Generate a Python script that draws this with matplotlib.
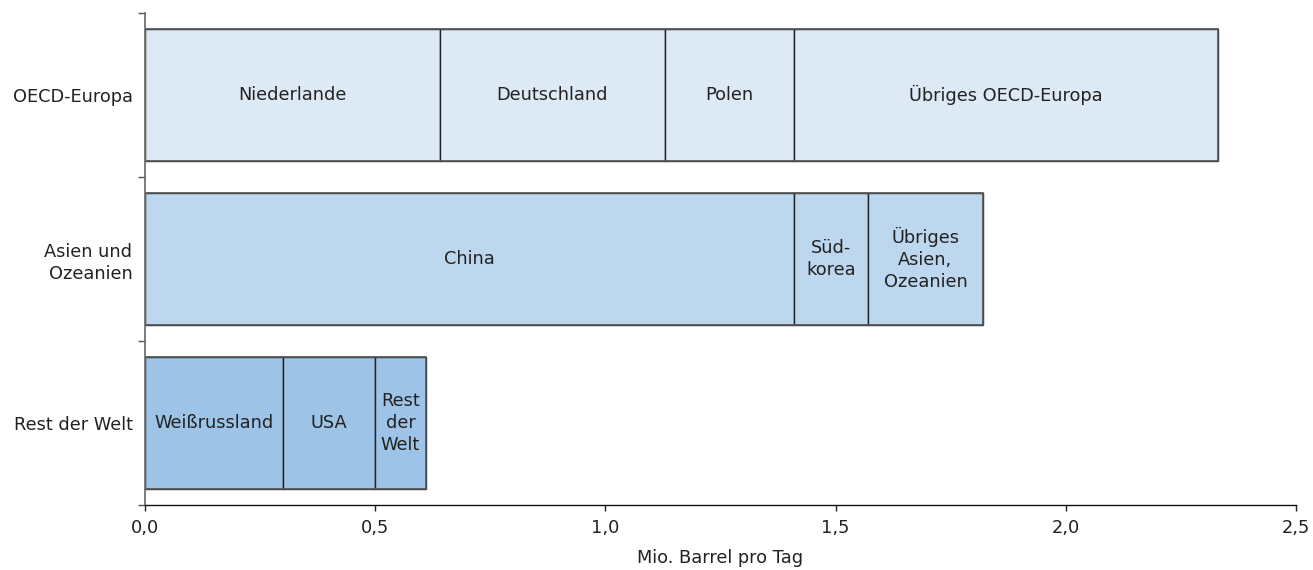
import numpy as np
import matplotlib.pyplot as plt
from matplotlib.ticker import FixedLocator

plt.rcParams['font.family'] = ['DejaVu Sans']

# Regions, top to bottom
regions = ['OECD-Europa', 'Asien und\nOzeanien', 'Rest der Welt']

# Segments per region (Mio. Barrel pro Tag)
oecd_labels = ['Niederlande', 'Deutschland', 'Polen', 'Übriges OECD-Europa']
oecd_values = [0.64, 0.49, 0.28, 0.92]

asia_labels = ['China', 'Süd-\nkorea', 'Übriges\nAsien,\nOzeanien']
asia_values = [1.41, 0.16, 0.25]

rest_labels = ['Weißrussland', 'USA', 'Rest\nder\nWelt']
rest_values = [0.30, 0.20, 0.11]

colors = ['#dde9f5', '#bdd7ee', '#9dc3e6']

xticks = [0.0, 0.5, 1.0, 1.5, 2.0, 2.5]
xtick_labels = ['0,0', '0,5', '1,0', '1,5', '2,0', '2,5']

fs = 12.8
fig = plt.figure(figsize=(13.13, 5.70), dpi=100)
ax = fig.add_axes([145 / 1313, 1 - 505 / 570, (1296 - 145) / 1313, (505 - 13) / 570])

rows = [(oecd_labels, oecd_values), (asia_labels, asia_values), (rest_labels, rest_values)]
ypos = [2, 1, 0]
bar_h = 0.81

for (labels, values), y, c in zip(rows, ypos, colors):
    left = 0.0
    for lab, v in zip(labels, values):
        ax.barh(y, v, left=left, height=bar_h, color=c, edgecolor='#222222', linewidth=1.0)
        ax.text(left + v / 2, y, lab, ha='center', va='center', fontsize=fs,
                color='#222222', linespacing=1.3)
        left += v
    # outer outline of the whole bar in grey
    ax.barh(y, left, height=bar_h, fill=False, edgecolor='#555555', linewidth=1.2)

ax.set_xlim(0, 2.5)
ax.set_ylim(-0.5, 2.5)

ax.set_xticks(xticks)
ax.set_xticklabels(xtick_labels, fontsize=fs, color='#222222')
ax.tick_params(axis='x', length=4, width=1, color='#222222', pad=6)
ax.set_xlabel('Mio. Barrel pro Tag', fontsize=fs, color='#222222', labelpad=9)

ax.set_yticks(ypos)
ax.set_yticklabels(regions, fontsize=fs, color='#222222', linespacing=1.3)
ax.tick_params(axis='y', which='major', length=0, pad=9)
ax.yaxis.set_minor_locator(FixedLocator([-0.5, 0.5, 1.5, 2.5]))
ax.tick_params(axis='y', which='minor', length=5, width=1, color='#555555')

for s in ['top', 'right']:
    ax.spines[s].set_visible(False)
ax.spines['left'].set_color('#666666')
ax.spines['left'].set_linewidth(1.2)
ax.spines['bottom'].set_color('#111111')
ax.spines['bottom'].set_linewidth(1.0)

fig.savefig('out.png', dpi=100)
